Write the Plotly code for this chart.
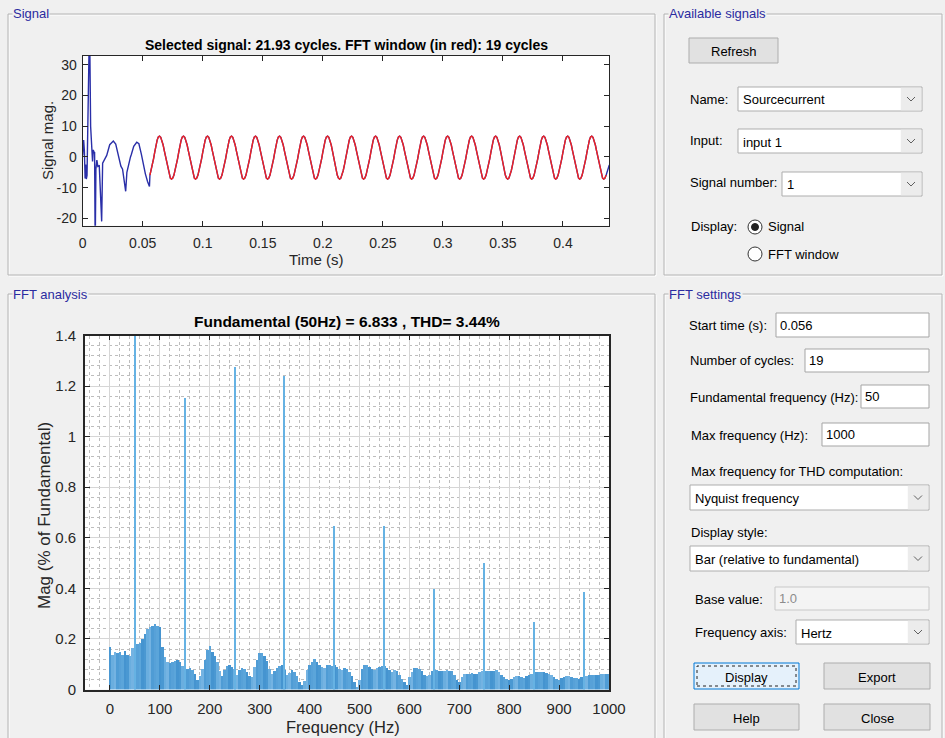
import plotly.graph_objects as go

W, H = 945, 738

# ---------------- data ----------------
# start-up transient of the source current (s, A)
transient_t = [0.0, 0.0008, 0.0014, 0.0020, 0.0025, 0.0030, 0.0036, 0.0046, 0.0057, 0.0066,
               0.0075, 0.0082, 0.0088, 0.0095, 0.0099, 0.0104, 0.0110, 0.0118, 0.0126, 0.0138,
               0.0158, 0.0166, 0.0180, 0.0200, 0.0225, 0.0255, 0.0275, 0.0292, 0.0300, 0.0306,
               0.0318, 0.0332, 0.0345, 0.0358, 0.0368, 0.0378, 0.0390, 0.0398, 0.0405, 0.0425,
               0.0450, 0.0468, 0.0488, 0.0505, 0.0522, 0.0540, 0.0556]
transient_v = [0.5, 5.5, 2.0, -7.0, -2.5, -7.2, -6.0, 20.0, 45.0, 10.0,
               -0.4, -1.5, 2.3, 1.5, 1.6, -30.0, -4.0, -1.0, -3.1, -2.9,
               -21.0, -2.0, -1.0, 0.5, 4.0, 5.2, 4.2, 1.5, -0.5, -1.5,
               -3.0, -4.0, -7.0, -11.2, -5.0, -3.0, -1.5, 0.0, 0.8, 3.5,
               4.8, 4.3, 1.0, -2.5, -5.5, -8.0, -9.6]

# one steady-state cycle (1 ms steps, starting at the positive peak)
cycle_v = [6.8, 6.4, 5.4, 3.9, 2.0, 0.1, -1.9, -4.3, -5.9, -6.9,
           -7.2, -6.9, -5.9, -4.4, -2.6, -0.6, 1.6, 3.9, 5.5, 6.5]
cycle_step = 0.001
window_start = 0.056          # FFT window start time (s)
window_cycles = 19
fundamental_hz = 50
window_phase = 12             # cycle sample at the window start
tail_t = [0.4372, 0.4386]
tail_v = [-4.4, -2.6]

sig_xticks = [0, 0.05, 0.1, 0.15, 0.2, 0.25, 0.3, 0.35, 0.4]
sig_xticklabels = ['0', '0.05', '0.1', '0.15', '0.2', '0.25', '0.3', '0.35', '0.4']
sig_yticks = [-20, -10, 0, 10, 20, 30]
sig_yticklabels = ['-20', '-10', '0', '10', '20', '30']

# spectrum noise floor, % of fundamental, every 5 Hz from 0 to 1000 Hz
floor_step_hz = 5
floor_mag = [
    0.170, 0.140, 0.150, 0.145, 0.150, 0.140, 0.155, 0.140, 0.135, 0.165,
    0.175, 0.180, 0.185, 0.200, 0.220, 0.240, 0.250, 0.255, 0.262, 0.255,
    0.250, 0.170, 0.130, 0.110, 0.105, 0.112, 0.115, 0.117, 0.110, 0.095,
    0.090, 0.085, 0.088, 0.080, 0.065, 0.040, 0.055, 0.085, 0.120, 0.160,
    0.175, 0.150, 0.135, 0.110, 0.075, 0.055, 0.080, 0.095, 0.100, 0.090,
    0.085, 0.060, 0.080, 0.088, 0.082, 0.070, 0.055, 0.050, 0.090, 0.120,
    0.145, 0.148, 0.136, 0.115, 0.085, 0.062, 0.075, 0.088, 0.093, 0.100,
    0.080, 0.060, 0.067, 0.078, 0.070, 0.055, 0.030, 0.018, 0.035, 0.080,
    0.100, 0.112, 0.123, 0.112, 0.100, 0.090, 0.087, 0.098, 0.097, 0.095,
    0.100, 0.090, 0.082, 0.080, 0.087, 0.082, 0.070, 0.055, 0.030, 0.012,
    0.040, 0.085, 0.100, 0.097, 0.090, 0.082, 0.080, 0.087, 0.092, 0.093,
    0.093, 0.088, 0.078, 0.073, 0.080, 0.075, 0.060, 0.045, 0.030, 0.018,
    0.050, 0.070, 0.087, 0.087, 0.083, 0.075, 0.060, 0.056, 0.060, 0.075,
    0.080, 0.078, 0.076, 0.075, 0.077, 0.078, 0.076, 0.074, 0.060, 0.040,
    0.030, 0.050, 0.062, 0.065, 0.063, 0.066, 0.064, 0.062, 0.070, 0.075,
    0.078, 0.077, 0.076, 0.075, 0.077, 0.078, 0.072, 0.060, 0.050, 0.044,
    0.040, 0.045, 0.050, 0.055, 0.057, 0.050, 0.048, 0.055, 0.060, 0.065,
    0.068, 0.070, 0.070, 0.070, 0.070, 0.067, 0.063, 0.058, 0.050, 0.045,
    0.040, 0.048, 0.053, 0.056, 0.057, 0.052, 0.048, 0.046, 0.044, 0.050,
    0.055, 0.057, 0.058, 0.060, 0.061, 0.061, 0.061, 0.062, 0.063, 0.063,
    0.063,
]
harmonic_hz = [50, 150, 250, 350, 450, 550, 650, 750, 850, 950]
harmonic_mag = [100.0, 1.153, 1.276, 1.240, 0.647, 0.650, 0.398, 0.504, 0.267, 0.386]

fft_xticks = [0, 100, 200, 300, 400, 500, 600, 700, 800, 900, 1000]
fft_xticklabels = ['0', '100', '200', '300', '400', '500', '600', '700', '800', '900', '1000']
fft_yticks = [0, 0.2, 0.4, 0.6, 0.8, 1.0, 1.2, 1.4]
fft_yticklabels = ['0', '0.2', '0.4', '0.6', '0.8', '1', '1.2', '1.4']

# ---------------- series assembly ----------------
n_win = window_cycles * len(cycle_v) + 1
red_t = [window_start + i * cycle_step for i in range(n_win)]
red_v = [cycle_v[(i + window_phase) % len(cycle_v)] for i in range(n_win)]
blue_t = transient_t + red_t + tail_t
blue_v = transient_v + red_v + tail_v

floor_f = [i * floor_step_hz for i in range(len(floor_mag))]
shades = ['#4a98d2', '#5ba5da', '#4f9cd5', '#6aaedf', '#4594d0', '#57a1d8', '#74b3e2']
floor_colors = [shades[(i * 3) % len(shades)] for i in range(len(floor_mag))]


def X(px):
    return px / W


def Y(py):
    return 1 - py / H


AX_FONT = 'Liberation Sans, Arial, sans-serif'
GUI_FONT = 'Liberation Sans, Arial, sans-serif'
AX_COL = '#262626'

fig = go.Figure()
fig.add_trace(go.Scatter(x=blue_t, y=blue_v, mode='lines', line=dict(color='#2a2fa8', width=1.4),
                         xaxis='x', yaxis='y', showlegend=False, hoverinfo='skip'))
fig.add_trace(go.Scatter(x=red_t, y=red_v, mode='lines', line=dict(color='#f02222', width=1.4),
                         xaxis='x', yaxis='y', showlegend=False, hoverinfo='skip'))
fig.add_trace(go.Bar(x=floor_f, y=floor_mag, width=floor_step_hz, marker=dict(color=floor_colors, line=dict(width=0)),
                     xaxis='x2', yaxis='y2', showlegend=False, hoverinfo='skip'))
fig.add_trace(go.Bar(x=harmonic_hz, y=harmonic_mag, width=2.6, marker=dict(color='#66b2e3', line=dict(width=0)),
                     xaxis='x2', yaxis='y2', showlegend=False, hoverinfo='skip'))

# axes rectangles in pixels
SIG = (82.7, 56.0, 609.3, 225.7)
FFT = (85.0, 335.5, 609.0, 689.5)

common = dict(showline=True, linecolor=AX_COL, linewidth=1.2, mirror='ticks', ticks='inside',
              ticklen=5, tickcolor=AX_COL, zeroline=False, fixedrange=True, automargin=False,
              tickfont=dict(family=AX_FONT, size=14, color=AX_COL))

layout = dict(
    width=W, height=H, margin=dict(l=0, r=0, t=0, b=0, pad=0, autoexpand=False),
    paper_bgcolor='#f0f0f0', plot_bgcolor='#ffffff', barmode='overlay', bargap=0,
    xaxis=dict(domain=[X(SIG[0]), X(SIG[2])], range=[0, 0.4386], tickmode='array',
               tickvals=sig_xticks, ticktext=sig_xticklabels, showgrid=False, anchor='y',
               ticklabelstandoff=4, **common),
    yaxis=dict(domain=[Y(SIG[3]), Y(SIG[1])], range=[-22.4, 32.9], tickmode='array',
               tickvals=sig_yticks, ticktext=sig_yticklabels, showgrid=False, anchor='x',
               ticklabelstandoff=2, **common),
    xaxis2=dict(domain=[X(FFT[0]), X(FFT[2])], range=[-50, 1000], tickmode='array',
                tickvals=fft_xticks, ticktext=fft_xticklabels, anchor='y2',
                showgrid=True, gridcolor='#d6d6d6', gridwidth=1, ticklabelstandoff=5,
                minor=dict(tickmode='linear', tick0=0, dtick=20, showgrid=True, gridcolor='#bdbdbd',
                           griddash='dot', gridwidth=1),
                **{**common, 'tickfont': dict(family=AX_FONT, size=15, color=AX_COL), 'linewidth': 1.6}),
    yaxis2=dict(domain=[Y(FFT[3]), Y(FFT[1])], range=[0, 1.4], tickmode='array',
                tickvals=fft_yticks, ticktext=fft_yticklabels, anchor='x2',
                showgrid=True, gridcolor='#d6d6d6', gridwidth=1, ticklabelstandoff=4,
                minor=dict(tickmode='linear', tick0=0, dtick=0.04, showgrid=True, gridcolor='#bdbdbd',
                           griddash='dot', gridwidth=1),
                **{**common, 'tickfont': dict(family=AX_FONT, size=15, color=AX_COL), 'linewidth': 1.6}),
)

shapes = []
annotations = []


def rect(x0, y0, x1, y1, fill='rgba(0,0,0,0)', line='#adadad', width=1, dash=None):
    ln = dict(color=line, width=width)
    if dash:
        ln['dash'] = dash
    shapes.append(dict(type='rect', xref='paper', yref='paper', x0=X(x0), x1=X(x1),
                       y0=Y(y1), y1=Y(y0), fillcolor=fill, line=ln, layer='above'))


def circle(cx, cy, r, fill, line='#333333', width=1):
    shapes.append(dict(type='circle', xref='paper', yref='paper', x0=X(cx - r), x1=X(cx + r),
                       y0=Y(cy + r), y1=Y(cy - r), fillcolor=fill, line=dict(color=line, width=width),
                       layer='above'))


def chevron(cx, cy):
    path = 'M {} {} L {} {} L {} {}'.format(X(cx - 4), Y(cy - 2), X(cx), Y(cy + 2), X(cx + 4), Y(cy - 2))
    shapes.append(dict(type='path', xref='paper', yref='paper', path=path,
                       line=dict(color='#606060', width=1), layer='above'))


def text(x, y, s, size=13, color='#000000', anchor='left', family=GUI_FONT, bg=None, bold=False):
    a = dict(x=X(x), y=Y(y), xref='paper', yref='paper', text=('<b>%s</b>' % s) if bold else s,
             showarrow=False, xanchor=anchor, yanchor='middle',
             font=dict(family=family, size=size, color=color), borderpad=0)
    if bg:
        a['bgcolor'] = bg
    annotations.append(a)


def panel(x0, y0, x1, y1, title):
    rect(x0 + 1, y0 + 1, x1 + 1, y1 + 1, line='#ffffff')
    rect(x0, y0, x1, y1, line='#b4b4b4')
    text(x0 + 4, y0, title, size=13, color='#2b2ba0', bg='#f0f0f0')


def dropdown(x0, y0, x1, y1, value):
    rect(x0, y0, x1, y1, fill='#ffffff', line='#adadad')
    rect(x1 - 21, y0 + 1, x1 - 1, y1 - 1, fill='#ececec', line='#ececec', width=0.5)
    chevron(x1 - 11, (y0 + y1) / 2)
    text(x0 + 4, (y0 + y1) / 2 + 1, value)


def editbox(x0, y0, x1, y1, value, enabled=True):
    rect(x0, y0, x1, y1, fill='#ffffff' if enabled else '#f4f4f4', line='#a5a5a5' if enabled else '#c8c8c8')
    text(x0 + 3, (y0 + y1) / 2, value, color='#000000' if enabled else '#8c8c8c')


def button(x0, y0, x1, y1, label, focused=False):
    if focused:
        rect(x0, y0, x1, y1, fill='#e5f1fb', line='#0078d7')
        rect(x0 + 3, y0 + 3, x1 - 3, y1 - 3, line='#222222', dash='dot')
    else:
        rect(x0, y0, x1, y1, fill='#e1e1e1', line='#adadad')
    text((x0 + x1) / 2, (y0 + y1) / 2 + 1, label, anchor='center')


# panels
panel(8, 14, 655, 275, 'Signal')
panel(664, 14, 942, 275, 'Available signals')
panel(8, 294, 655, 760, 'FFT analysis')
panel(664, 294, 942, 760, 'FFT settings')

# available signals controls
button(689, 38, 778, 63, 'Refresh')
text(689, 99, 'Name:')
dropdown(738, 87, 922, 111, 'Sourcecurrent')
text(689, 140, 'Input:')
dropdown(738, 129, 922, 153, 'input 1')
text(689, 183, 'Signal number:')
dropdown(782, 172, 922, 196, '1')
text(690, 227, 'Display:')
circle(755, 227, 7, '#ffffff')
circle(755, 227, 3.5, '#222222', line='#222222')
text(767, 227, 'Signal')
circle(755, 254, 7, '#ffffff')
text(767, 254, 'FFT window')

# FFT settings controls
text(688, 325, 'Start time (s):')
editbox(776, 313, 929, 337, '0.056')
text(689, 361, 'Number of cycles:')
editbox(805, 349, 929, 372, '19')
text(689, 397, 'Fundamental frequency (Hz):')
editbox(861, 385, 929, 408, '50')
text(690, 435, 'Max frequency (Hz):')
editbox(822, 423, 929, 446, '1000')
text(690, 471, 'Max frequency for THD computation:')
dropdown(690, 485, 929, 510, 'Nyquist frequency')
text(690, 532, 'Display style:')
dropdown(690, 546, 929, 571, 'Bar (relative to fundamental)')
text(694, 599, 'Base value:')
editbox(775, 587, 929, 610, '1.0', enabled=False)
text(694, 632, 'Frequency axis:')
dropdown(796, 620, 929, 644, 'Hertz')
button(694, 663, 799, 689, 'Display', focused=True)
button(824, 663, 930, 689, 'Export')
button(694, 704, 799, 730, 'Help')
button(824, 704, 930, 730, 'Close')

# axes titles and labels
text(346, 45, 'Selected signal: 21.93 cycles. FFT window (in red): 19 cycles', size=14,
     anchor='center', family=AX_FONT, bold=True)
text(316, 259, 'Time (s)', size=15, anchor='center', family=AX_FONT, color=AX_COL)
annotations.append(dict(x=X(47), y=Y(141), xref='paper', yref='paper', text='Signal mag.',
                        showarrow=False, textangle=-90, xanchor='center', yanchor='middle',
                        font=dict(family=AX_FONT, size=15, color=AX_COL)))
text(347, 321, 'Fundamental (50Hz) = 6.833 , THD= 3.44%', size=15.5, anchor='center',
     family=AX_FONT, bold=True)
text(343, 727, 'Frequency (Hz)', size=16.5, anchor='center', family=AX_FONT, color=AX_COL)
annotations.append(dict(x=X(44), y=Y(516), xref='paper', yref='paper', text='Mag (% of Fundamental)',
                        showarrow=False, textangle=-90, xanchor='center', yanchor='middle',
                        font=dict(family=AX_FONT, size=17, color=AX_COL)))

layout['shapes'] = shapes
layout['annotations'] = annotations
fig.update_layout(**layout)
fig.write_html('out.html')
